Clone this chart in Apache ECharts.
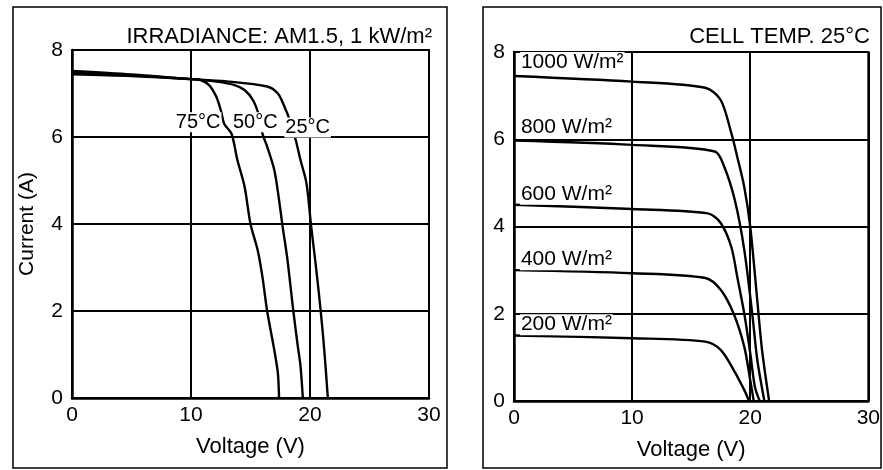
<!DOCTYPE html>
<html><head><meta charset="utf-8">
<script src="https://cdn.jsdelivr.net/npm/echarts@6/dist/echarts.min.js"></script>
<style>html,body{margin:0;padding:0;background:#fff}#c{width:883px;height:470px}</style>
</head><body><div id="c"></div>
<script>
// ---- Data ----
const xTickMin = 0, xTickMax = 30, xTickStep = 10;
const yTickMin = 0, yTickMax = 8, yTickStep = 2;

const leftTitle = 'IRRADIANCE: AM1.5, 1 kW/m²';
const rightTitle = 'CELL TEMP. 25°C';
const xName = 'Voltage (V)';
const yName = 'Current (A)';

const tempNames = ['25°C', '50°C', '75°C'];
const t25V = [0, 5, 10, 13, 16.4, 17.3, 17.8, 18.3, 18.8, 19.2, 19.7, 20.1, 20.5, 20.9, 21.2, 21.5];
const t25I = [7.44, 7.40, 7.33, 7.28, 7.16, 7.0, 6.73, 6.39, 5.93, 5.47, 4.94, 3.94, 3.02, 2.0, 1.1, 0];
const t50V = [0, 5, 10, 12, 13.6, 14.5, 15.2, 15.7, 16.0, 16.4, 17.0, 17.4, 17.7, 18.1, 18.6, 18.97, 19.2, 19.4];
const t50I = [7.48, 7.42, 7.33, 7.28, 7.2, 7.08, 6.85, 6.5, 6.08, 5.78, 5.24, 4.55, 3.94, 3.19, 2.0, 1.2, 0.74, 0];
const t75V = [0, 5, 10, 10.8, 11.5, 12.1, 12.5, 12.8, 13.4, 13.9, 14.5, 15.0, 15.6, 16.0, 16.4, 17.0, 17.3, 17.4];
const t75I = [7.52, 7.44, 7.33, 7.31, 7.2, 6.94, 6.62, 6.3, 6.08, 5.47, 4.86, 4.0, 3.4, 2.79, 2.0, 1.1, 0.57, 0];

const irrNames = ['1000 W/m²', '800 W/m²', '600 W/m²', '400 W/m²', '200 W/m²'];
const g1000V = [0, 10, 16.2, 17.5, 18.4, 18.9, 19.5, 20.0, 20.6, 21.0, 21.6];
const g1000I = [7.45, 7.32, 7.18, 6.9, 6.14, 5.6, 4.9, 4.0, 2.3, 1.17, 0];
const g800V = [0, 10, 17.0, 17.8, 18.7, 19.5, 20.2, 20.6, 21.2];
const g800I = [5.97, 5.87, 5.72, 5.37, 4.6, 3.46, 1.93, 0.94, 0];
const g600V = [0, 10, 16.4, 17.5, 18.4, 18.9, 19.5, 20.0, 20.4, 20.8];
const g600I = [4.5, 4.40, 4.3, 4.08, 3.53, 2.85, 2.0, 1.1, 0.32, 0];
const g400V = [0, 10, 16.2, 17.5, 18.6, 19.5, 20.0, 20.3];
const g400I = [3.0, 2.93, 2.82, 2.55, 2.0, 1.24, 0.48, 0];
const g200V = [0, 10, 16.2, 17.5, 18.6, 19.5, 19.9];
const g200I = [1.50, 1.44, 1.36, 1.17, 0.71, 0.25, 0];

// ---- Chart ----
const FONT = 'Liberation Sans';
const INK = '#000';
const pair = (V, I) => V.map((v, i) => [v, I[i]]);

const chart = echarts.init(document.getElementById('c'), null, { renderer: 'canvas' });

function xAxis(gi) {
  return {
    type: 'value', gridIndex: gi, min: xTickMin, max: xTickMax, interval: xTickStep,
    name: xName, nameLocation: 'middle', nameGap: 38,
    nameTextStyle: { fontFamily: FONT, fontSize: 22, color: INK },
    axisLine: { show: true, lineStyle: { color: INK, width: 2.5 } },
    axisTick: { show: false },
    axisLabel: { fontFamily: FONT, fontSize: 21, color: INK, margin: 7 },
    splitLine: { show: true, lineStyle: { color: INK, width: 2 } }
  };
}
function yAxis(gi, withName) {
  return {
    type: 'value', gridIndex: gi, min: yTickMin, max: yTickMax, interval: yTickStep,
    name: withName ? yName : '', nameLocation: 'middle', nameGap: 34, nameRotate: 90,
    nameTextStyle: { fontFamily: FONT, fontSize: 21, color: INK },
    axisLine: { show: true, lineStyle: { color: INK, width: 2.5 } },
    axisTick: { show: false },
    axisLabel: { fontFamily: FONT, fontSize: 21, color: INK, margin: 9 },
    splitLine: { show: true, lineStyle: { color: INK, width: 2 } }
  };
}

const lineBase = {
  type: 'line', showSymbol: false, symbol: 'none', smooth: 0.3,
  lineStyle: { color: INK, width: 2.4 }, z: 3, animation: false
};

function tag(coord, text, align, size) {
  return {
    coord: coord, symbol: 'rect', symbolSize: 1, itemStyle: { color: 'rgba(0,0,0,0)' },
    label: {
      show: true, position: 'inside', formatter: text, align: align,
      fontFamily: FONT, fontSize: size, color: INK,
      backgroundColor: '#fff', padding: [0, 1]
    }
  };
}

const leftSets = [[t25V, t25I], [t50V, t50I], [t75V, t75I]];
const leftTags = [[19.8, 6.22], [15.4, 6.34], [10.6, 6.34]];
const rightSets = [[g1000V, g1000I], [g800V, g800I], [g600V, g600I], [g400V, g400I], [g200V, g200I]];
const rightTags = [[0.5, 7.76], [0.5, 6.27], [0.5, 4.74], [0.5, 3.24], [0.5, 1.75]];

const series = [];
leftSets.forEach((s, i) => {
  series.push(Object.assign({}, lineBase, {
    name: tempNames[i], xAxisIndex: 0, yAxisIndex: 0, data: pair(s[0], s[1]),
    markPoint: { animation: false, z: 5, data: [tag(leftTags[i], tempNames[i], 'center', 20)] }
  }));
});
rightSets.forEach((s, i) => {
  series.push(Object.assign({}, lineBase, {
    name: irrNames[i], xAxisIndex: 1, yAxisIndex: 1, data: pair(s[0], s[1]),
    markPoint: { animation: false, z: 5, data: [tag(rightTags[i], irrNames[i], 'left', 21)] }
  }));
});

chart.setOption({
  backgroundColor: '#fff',
  animation: false,
  title: [
    { text: leftTitle, right: 446, top: 21, textStyle: { fontFamily: FONT, fontSize: 22, fontWeight: 'normal', color: INK } },
    { text: rightTitle, right: 8, top: 21, textStyle: { fontFamily: FONT, fontSize: 22, fontWeight: 'normal', color: INK } }
  ],
  grid: [
    { left: 72, top: 50, width: 357, height: 348, show: true, borderColor: INK, borderWidth: 2, containLabel: false },
    { left: 514, top: 52, width: 359, height: 349, show: true, borderColor: INK, borderWidth: 2, containLabel: false }
  ],
  xAxis: [xAxis(0), xAxis(1)],
  yAxis: [yAxis(0, true), yAxis(1, false)],
  graphic: [
    { type: 'rect', shape: { x: 13, y: 7, width: 434, height: 461 }, style: { fill: 'none', stroke: INK, lineWidth: 1.5 }, z: 0 },
    { type: 'rect', shape: { x: 483, y: 7, width: 398, height: 461 }, style: { fill: 'none', stroke: INK, lineWidth: 1.5 }, z: 0 }
  ],
  series: series
});
</script></body></html>
